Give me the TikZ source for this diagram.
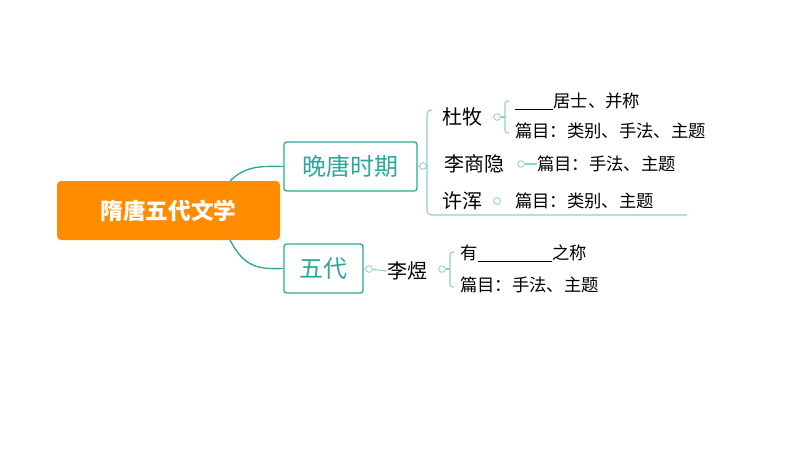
\documentclass[tikz,border=0pt]{standalone}
\usepackage{fontspec}
\setmainfont{Noto Sans CJK SC}
\definecolor{teal1}{HTML}{2BA89A}
\definecolor{line1}{HTML}{8FCFC6}
\definecolor{orng}{HTML}{FF8C00}
\newcommand{\blank}[1]{\rule[-0.15em]{#1}{0.6pt}}
\begin{document}
\begin{tikzpicture}[x=0.75pt,y=-0.75pt,
  topic/.style={draw=teal1,line width=1pt,rounded corners=2pt,text=teal1,font=\fontsize{18}{20}\selectfont,inner sep=0pt},
  sub/.style={font=\fontsize{15}{17}\selectfont,inner sep=0pt},
  leaf/.style={font=\fontsize{13}{15}\selectfont,inner sep=0pt,anchor=west},
  dot/.style={circle,draw=line1,line width=0.6pt,minimum size=5pt,inner sep=0pt},
  conn/.style={draw=line1,line width=0.8pt}]
\useasboundingbox (0,0) rectangle (800,450);
\node[fill=orng,rounded corners=3pt,minimum width=223*0.75pt,minimum height=59*0.75pt,text=white,font=\bfseries\fontsize{17}{20}\selectfont] (root) at (168.5,210.5) {隋唐五代文学};
\node[topic,minimum width=133*0.75pt,minimum height=49*0.75pt] (wt) at (350.5,166.5) {晚唐时期};
\node[topic,minimum width=79*0.75pt,minimum height=49*0.75pt] (wd) at (323.5,268.5) {五代};
\draw[teal1,line width=1pt] (230,181) .. controls (245,166) and (260,166) .. (wt.west);
\draw[teal1,line width=1pt] (230,240) .. controls (245,269) and (260,269) .. (wd.west);
% late tang
\node[dot] (c1) at (423,166) {};
\draw[conn] (wt.east) -- (c1);
\coordinate (bt) at (427,110);
\coordinate (bb) at (427,215);
\coordinate (be) at (687,215);
\draw[conn,rounded corners=3pt] (432,110) -- (bt) -- (bb) -- (be);
\draw[conn] (c1) -- (427,166);
\node[sub] (dm) at (462,117) {杜牧};
\node[sub] (lsy) at (474,164) {李商隐};
\node[sub] (xh) at (462,201) {许浑};
\node[dot] (d1) at (497,117) {};
\node[dot] (d2) at (521,164) {};
\node[dot] (d3) at (497,201) {};
\draw[conn,rounded corners=2pt] (509,101) -- (505,101) -- (505,133) -- (509,133);
\draw[conn] (d1) -- (505,117);
\node[leaf] (t1) at (515,101) {\blank{2.2em}居士、并称};
\node[leaf] (t2) at (515,131) {篇目：类别、手法、主题};
\node[leaf] (t3) at (537,164) {篇目：手法、主题};
\node[leaf] (t4) at (515,201) {篇目：类别、主题};
\draw[conn] (d2) -- (t3.west);
% five dynasties
\node[dot] (c2) at (369,269) {};
\draw[conn] (wd.east) -- (c2);
\node[sub] (ly) at (407,271) {李煜};
\draw[conn] (c2) -- (ly.west);
\node[dot] (d4) at (442,269) {};
\draw[conn,rounded corners=2pt] (454,252) -- (450,252) -- (450,287) -- (454,287);
\draw[conn] (d4) -- (450,269);
\node[leaf] (t5) at (460,253) {有\blank{4.3em}之称};
\node[leaf] (t6) at (460,285) {篇目：手法、主题};
\end{tikzpicture}
\end{document}
